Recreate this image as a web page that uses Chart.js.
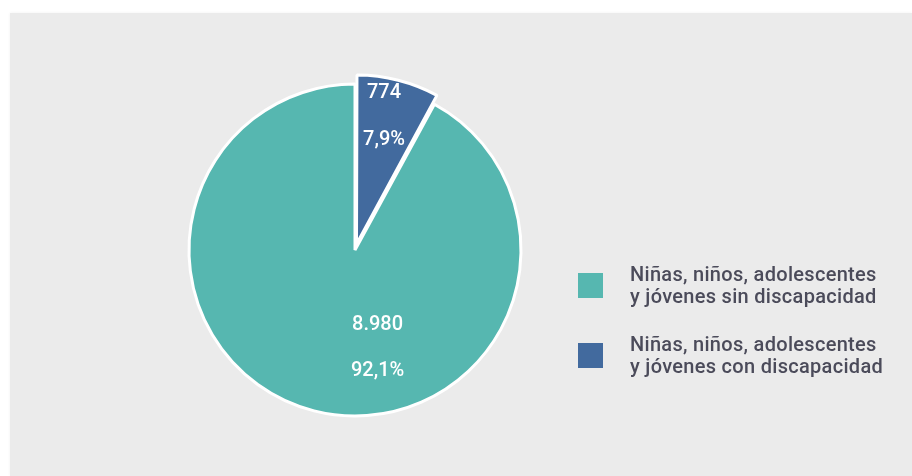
<!DOCTYPE html>
<html>
<head>
<meta charset="utf-8">
<script src="https://cdn.jsdelivr.net/npm/chart.js@4/dist/chart.umd.min.js"></script>
<style>
html,body{margin:0;padding:0;width:912px;height:476px;overflow:hidden;background:#ffffff;font-family:Roboto,"Noto Sans",sans-serif;}
#panel{position:absolute;left:10px;top:13px;right:0;bottom:0;background:#ebebeb;box-shadow:0 0 3px rgba(0,0,0,0.06);}
#wrap{position:absolute;left:0;top:0;width:710px;height:476px;}
#legend{position:absolute;left:578px;top:263px;}
.item{display:flex;align-items:center;margin-bottom:26px;}
.sw{width:25px;height:25px;margin-right:27px;flex:none;}
.tx{font-size:20px;line-height:22px;font-weight:500;letter-spacing:0.3px;color:#4b4b5a;white-space:nowrap;}
</style>
</head>
<body>
<div id="panel"></div>
<div id="wrap"><canvas id="c"></canvas></div>
<div id="legend"></div>
<script>
// ---- data ----
const categories = [
  ["Niñas, niños, adolescentes", "y jóvenes sin discapacidad"],
  ["Niñas, niños, adolescentes", "y jóvenes con discapacidad"]
];
const values = [8980, 774];
const valueLabels = ["8.980", "774"];
const percentLabels = ["92,1%", "7,9%"];
const colors = ["#56b7b0", "#426a9e"];

const total = values.reduce((a, b) => a + b, 0);

// legend (HTML, real text)
const legend = document.getElementById('legend');
categories.forEach((lines, i) => {
  const it = document.createElement('div'); it.className = 'item';
  const sw = document.createElement('div'); sw.className = 'sw'; sw.style.background = colors[i];
  const tx = document.createElement('div'); tx.className = 'tx';
  lines.forEach((l, j) => { if (j) tx.appendChild(document.createElement('br')); tx.appendChild(document.createTextNode(l)); });
  it.appendChild(sw); it.appendChild(tx); legend.appendChild(it);
});

// white base under the pie so the gap left by the pulled-out slice looks white
const whiteBase = {
  id: 'whiteBase',
  beforeDatasetsDraw(chart) {
    const a = chart.getDatasetMeta(0).data[0];
    const ctx = chart.ctx;
    ctx.save();
    ctx.fillStyle = '#ffffff';
    ctx.beginPath();
    ctx.arc(a.x, a.y, a.outerRadius - 1, 0, Math.PI * 2);
    ctx.fill();
    ctx.restore();
  }
};

// value + percent labels inside slices
const sliceLabels = {
  id: 'sliceLabels',
  afterDatasetsDraw(chart) {
    const meta = chart.getDatasetMeta(0);
    const base = meta.data[0];
    const R = base.outerRadius;
    const ctx = chart.ctx;
    ctx.save();
    ctx.fillStyle = '#ffffff';
    ctx.font = '500 20px Roboto';
    ctx.textAlign = 'center';
    ctx.textBaseline = 'middle';
    meta.data.forEach((arc, i) => {
      let cx, cy, gap;
      if (i === 1) {
        cx = base.x + R * 0.175; cy = base.y - R * 0.804; gap = 23.5;
      } else {
        cx = base.x + R * 0.136; cy = base.y + R * 0.590; gap = 23;
      }
      ctx.fillText(valueLabels[i], cx, cy - gap);
      ctx.fillText(percentLabels[i], cx, cy + gap);
    });
    ctx.restore();
  }
};

new Chart(document.getElementById('c'), {
  type: 'pie',
  data: {
    labels: categories.map(l => l.join(' ')),
    datasets: [{
      data: values,
      backgroundColor: colors,
      borderColor: '#ffffff',
      borderWidth: 3,
      offset: [0, 24]
    }]
  },
  options: {
    responsive: true,
    maintainAspectRatio: false,
    animation: false,
    rotation: 360 * values[1] / total,
    radius: 166,
    layout: { padding: { top: 24, bottom: 0, left: 0, right: 0 } },
    plugins: { legend: { display: false }, tooltip: { enabled: false } }
  },
  plugins: [whiteBase, sliceLabels]
});
</script>
</body>
</html>
